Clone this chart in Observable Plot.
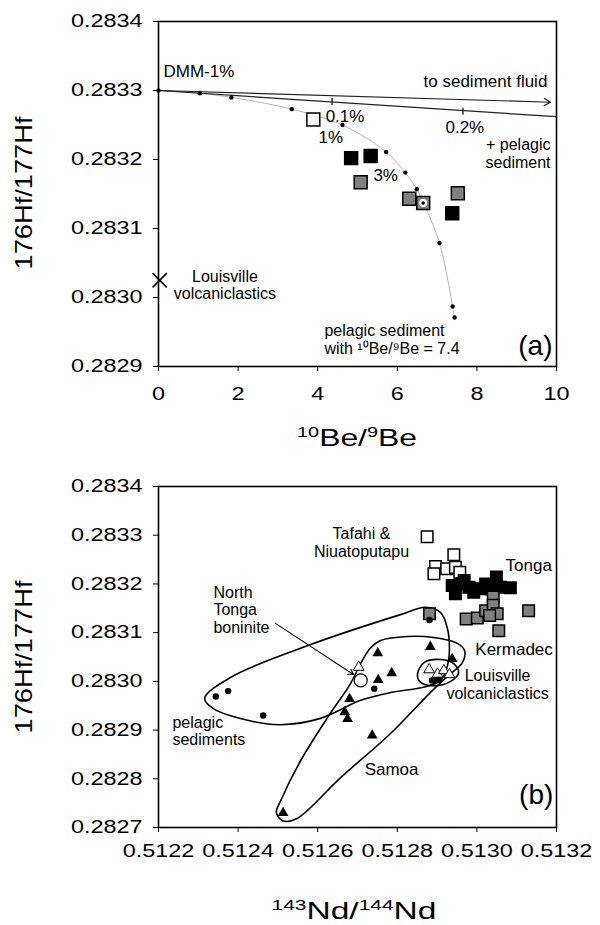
<!DOCTYPE html>
<html><head><meta charset="utf-8">
<script src="https://cdn.jsdelivr.net/npm/d3@7"></script>
<script src="https://cdn.jsdelivr.net/npm/@observablehq/plot@0.6"></script>
<style>body{margin:0;background:#fff} #chart svg{display:block}</style>
</head><body><div id="chart"></div>
<script>
const FONT = "'Liberation Sans', Arial, Helvetica, sans-serif";

// ---------- Panel (a): 176Hf/177Hf vs 10Be/9Be ----------
const beTicks = [0, 2, 4, 6, 8, 10];
const hfTicksA = [0.2829, 0.2830, 0.2831, 0.2832, 0.2833, 0.2834];
const mixCurve = [[0,0.28330],[1.04,0.283296],[1.83,0.28329],[3.35,0.283273],[4.62,0.28325],[5.72,0.283211],[6.2,0.283181],[6.49,0.283157],[6.65,0.283138],[7.06,0.283079],[7.39,0.282987],[7.44,0.282971]];
const mixDots = [[0,0.28330],[1.04,0.283296],[1.83,0.28329],[3.35,0.283273],[4.62,0.28325],[5.72,0.283211],[6.2,0.283181],[6.49,0.283157],[7.06,0.283079],[7.39,0.282987],[7.44,0.282971]];
const fluidArrow = [{x1:0, y1:0.28330, x2:9.85, y2:0.283283}];
const fluidLine = [[0,0.28330],[10,0.283262]];
const fluidTicks = [[4.36,0.283284],[7.65,0.283270]];
const whiteSqA = [[3.89,0.283258]];
const blackSqA = [[4.84,0.283202],[5.33,0.283205],[7.38,0.283122]];
const graySqA = [[5.08,0.283167],[6.3,0.283143],[6.65,0.283137],[7.52,0.283151]];
const markedSqA = [[6.65,0.283137]];
const louisvilleA = [[0.03,0.283025]];
const labelsStartA = [["DMM-1%",0.126,0.283328],["0.1%",4.2,0.283262],["1%",4.02,0.283232],["0.2%",7.21,0.283246],["3%",5.4,0.283177]];
const multiStartA = [["pelagic sediment\nwith ¹⁰Be/⁹Be = 7.4",4.17,0.28294]];
const labelsEndA = [["to sediment fluid",9.77,0.283313]];
const multiEndA = [["+ pelagic\nsediment",9.85,0.2832085]];
const multiMidA = [["Louisville\nvolcaniclastics",1.67,0.2830185]];
const panelLabelA = [["(a)",9.9,0.282930]];

// ---------- Panel (b): 176Hf/177Hf vs 143Nd/144Nd ----------
const ndTicks = [0.5122, 0.5124, 0.5126, 0.5128, 0.5130, 0.5132];
const hfTicksB = [0.2827, 0.2828, 0.2829, 0.2830, 0.2831, 0.2832, 0.2833, 0.2834];
const pelagicEnv = [[0.512316,0.282965],[0.512381,0.283008],[0.512577,0.283074],[0.512808,0.283137],[0.512871,0.283152],[0.512909,0.283141],[0.512926,0.283108],[0.512931,0.283067],[0.512926,0.283032],[0.512909,0.283002],[0.512871,0.282989],[0.512783,0.282977],[0.512708,0.282961],[0.512607,0.282924],[0.512507,0.282911],[0.512424,0.282920],[0.512338,0.282944]];
const samoaEnv = [[0.512496,0.282731],[0.512512,0.282714],[0.512547,0.282718],[0.512657,0.282802],[0.512783,0.282893],[0.512883,0.282977],[0.512926,0.283010],[0.512964,0.283039],[0.512969,0.283063],[0.512951,0.283078],[0.512891,0.283090],[0.512826,0.283092],[0.512758,0.283084],[0.512733,0.283069],[0.512708,0.283037],[0.512682,0.282995],[0.512625,0.282926],[0.512557,0.282837],[0.512507,0.282755]];
const louisvilleEnv = [[0.512851,0.283016],[0.512868,0.283039],[0.512909,0.283045],[0.512941,0.283037],[0.512954,0.283018],[0.512934,0.283000],[0.512888,0.282991],[0.512856,0.283000]];
const boniniteArrow = [{x1:0.512494, y1:0.283119, x2:0.512690, y2:0.283014}];
const openSqB = [[0.512875,0.283297],[0.512942,0.28326],[0.512896,0.283236],[0.512892,0.283221],[0.512924,0.283231],[0.512946,0.283234],[0.512957,0.283224]];
const blackSqB = [[0.512938,0.283197],[0.512959,0.2832],[0.512946,0.28318],[0.51298,0.283193],[0.512992,0.283183],[0.513022,0.2832],[0.513034,0.28319],[0.513049,0.283214],[0.513059,0.283193],[0.513084,0.283192],[0.513009,0.28319],[0.512968,0.283207]];
const graySqB = [[0.512881,0.283139],[0.512973,0.283128],[0.513001,0.28313],[0.513022,0.283145],[0.513041,0.283173],[0.513041,0.283156],[0.513051,0.283139],[0.513055,0.283104],[0.51313,0.283145],[0.513032,0.283135]];
const samoaTri = [[0.512751,0.283058],[0.512883,0.283071],[0.512938,0.283046],[0.512786,0.283017],[0.512752,0.283003],[0.51268,0.282964],[0.512668,0.282937],[0.512675,0.282923],[0.512737,0.282889],[0.512513,0.28273]];
const openTri = [[0.512703,0.283029],[0.51288,0.283024],[0.512901,0.283015],[0.512917,0.283022],[0.512931,0.283014]];
const pelagicDots = [[0.512344,0.282969],[0.512375,0.28298],[0.512463,0.28293],[0.512742,0.282985],[0.512881,0.283126],[0.512887,0.283002],[0.512895,0.283002],[0.512905,0.283003]];
const boniniteCircle = [[0.512708,0.283002]];
const labelsStartB = [["Tonga",0.513072,0.283238],["Kermadec",0.512996,0.283065],["Samoa",0.512718,0.282819]];
const multiStartB = [["North\nTonga\nboninite",0.512338,0.283147],["pelagic\nsediments",0.512235,0.2828985]];
const multiMidB = [["Tafahi &\nNiuatoputapu",0.51271,0.283285],["Louisville\nvolcaniclastics",0.513052,0.2829945]];
const panelLabelB = [["(b)",0.513192,0.282766]];

const GRAY = "#808080";
const xy = {x: d => d[0], y: d => d[1]};
const txt = {x: d => d[1], y: d => d[2], text: d => d[0]};
const vtick = {draw(ctx, size) { const h = Math.sqrt(size) / 2; ctx.moveTo(0, -h); ctx.lineTo(0, h); }};

function base(h, mt, mb) {
  return {width: 600, height: h, marginTop: mt, marginBottom: mb, marginLeft: 158, marginRight: 44,
    style: {fontFamily: FONT, fontSize: "18px", color: "black", background: "white", overflow: "visible"}};
}
function sq(data, fill, r) { return Plot.dot(data, {...xy, symbol: "square", r, fill, stroke: "black", strokeWidth: 1.5}); }
function label(data, anchor, size = 17) { return Plot.text(data, {...txt, textAnchor: anchor, fontSize: size}); }
function multi(data, anchor) { return Plot.text(data, {...txt, textAnchor: anchor, fontSize: 16, lineHeight: 1.12}); }

const plotA = Plot.plot({
  ...base(460, 21, 94),
  x: {domain: [0, 10], ticks: beTicks, tickSize: 5, tickPadding: 16, label: null},
  y: {domain: [0.2829, 0.2834], ticks: hfTicksA, tickFormat: d3.format(".4f"), tickSize: 5, tickPadding: 11, label: null},
  marks: [
    Plot.line(mixCurve, {...xy, stroke: "#b5b5b5", strokeWidth: 1, curve: "catmull-rom"}),
    Plot.line(fluidLine, {...xy, stroke: "#222", strokeWidth: 1.2}),
    Plot.arrow(fluidArrow, {x1: "x1", y1: "y1", x2: "x2", y2: "y2", stroke: "#222", strokeWidth: 1.2, headLength: 9}),
    Plot.dot(fluidTicks, {...xy, symbol: vtick, r: 4, stroke: "#222", strokeWidth: 1.4}),
    Plot.dot(mixDots, {...xy, r: 2.2, fill: "black"}),
    sq(whiteSqA, "white", 7.3),
    sq(blackSqA, "black", 7.3),
    sq(graySqA, GRAY, 7.3),
    Plot.dot(markedSqA, {...xy, r: 4, fill: "white"}),
    Plot.dot(markedSqA, {...xy, r: 1.8, fill: "black"}),
    Plot.dot(louisvilleA, {...xy, symbol: "times", r: 6.5, stroke: "black", strokeWidth: 1.6}),
    label(labelsStartA, "start"),
    label(labelsEndA, "end"),
    multi(multiStartA, "start"),
    multi(multiEndA, "end"),
    multi(multiMidA, "middle"),
    label(panelLabelA, "end", 28),
    Plot.frame({stroke: "black", strokeWidth: 1.6})
  ]
});

const plotB = Plot.plot({
  ...base(465, 26, 98),
  x: {domain: [0.5122, 0.5132], ticks: ndTicks, tickFormat: d3.format(".4f"), tickSize: 5, tickPadding: 12, label: null},
  y: {domain: [0.2827, 0.2834], ticks: hfTicksB, tickFormat: d3.format(".4f"), tickSize: 5, tickPadding: 11, label: null},
  marks: [
    Plot.line(pelagicEnv, {...xy, stroke: "black", strokeWidth: 1.6, curve: "catmull-rom-closed"}),
    Plot.line(samoaEnv, {...xy, stroke: "black", strokeWidth: 1.6, curve: "catmull-rom-closed"}),
    Plot.line(louisvilleEnv, {...xy, stroke: "black", strokeWidth: 1.6, curve: "catmull-rom-closed"}),
    Plot.arrow(boniniteArrow, {x1: "x1", y1: "y1", x2: "x2", y2: "y2", stroke: "black", strokeWidth: 1.1, headLength: 8}),
    sq(openSqB, "white", 6.5),
    sq(blackSqB, "black", 6.5),
    sq(graySqB, GRAY, 6.5),
    Plot.dot(samoaTri, {...xy, symbol: "triangle", r: 4, fill: "black"}),
    Plot.dot(openTri, {...xy, symbol: "triangle", r: 4, fill: "white", stroke: "black", strokeWidth: 1}),
    Plot.dot(pelagicDots, {...xy, r: 3.2, fill: "black"}),
    Plot.dot(boniniteCircle, {...xy, r: 6.5, fill: "white", stroke: "black", strokeWidth: 1.2}),
    label(labelsStartB, "start"),
    multi(multiStartB, "start"),
    multi(multiMidB, "middle"),
    label(panelLabelB, "end", 28),
    Plot.frame({stroke: "black", strokeWidth: 1.6})
  ]
});

const chart = document.getElementById("chart");
chart.appendChild(plotA);
chart.appendChild(plotB);

function stretchTicks(svg, factor) {
  d3.select(svg).selectAll('g[aria-label^="x-axis"] text, g[aria-label^="y-axis"] text').each(function() {
    const l = this.getComputedTextLength();
    this.setAttribute("textLength", l * factor);
    this.setAttribute("lengthAdjust", "spacingAndGlyphs");
  });
}
function xTitle(svg, x, y, parts, len) {
  const t = d3.select(svg).append("text").attr("x", x).attr("y", y).attr("text-anchor", "middle")
    .attr("font-family", FONT).attr("font-size", 24).attr("fill", "black");
  let raised = false;
  for (const [s, sup] of parts) {
    const ts = t.append("tspan").text(s);
    if (sup) { ts.attr("font-size", 15).attr("dy", raised ? 0 : -9); raised = true; }
    else { ts.attr("dy", raised ? 9 : 0); raised = false; }
  }
  t.attr("textLength", len).attr("lengthAdjust", "spacingAndGlyphs");
}
function yTitle(svg, x, y, label, len) {
  d3.select(svg).append("text").attr("transform", `translate(${x},${y}) rotate(-90)`).attr("text-anchor", "middle")
    .attr("font-family", FONT).attr("font-size", 24).attr("fill", "black").text(label)
    .attr("textLength", len).attr("lengthAdjust", "spacingAndGlyphs");
}
stretchTicks(plotA, 1.3);
stretchTicks(plotB, 1.3);
xTitle(plotA, 357, 446, [["10", true], ["Be/", false], ["9", true], ["Be", false]], 120);
xTitle(plotB, 354, 459, [["143", true], ["Nd/", false], ["144", true], ["Nd", false]], 165);
yTitle(plotA, 32, 193, "176Hf/177Hf", 153);
yTitle(plotB, 32, 197, "176Hf/177Hf", 153);
</script></body></html>
